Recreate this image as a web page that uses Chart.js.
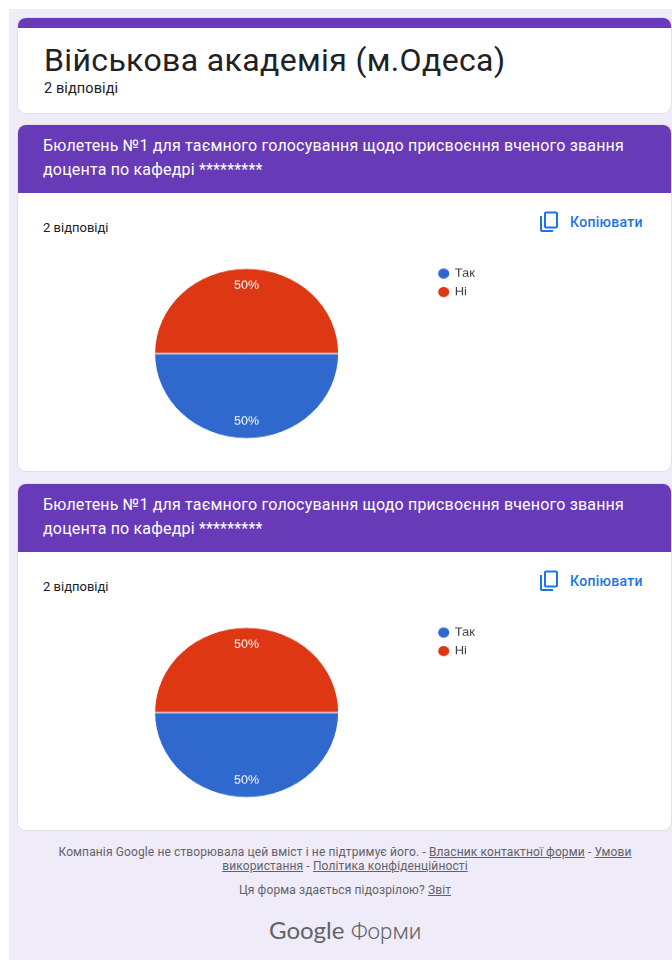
<!DOCTYPE html>
<html>
<head>
<meta charset="utf-8">
<script src="https://cdn.jsdelivr.net/npm/chart.js@4"></script>
<style>
  html, body { margin: 0; padding: 0; background: #fff; }
  body { width: 672px; height: 960px; overflow: hidden; position: relative; font-family: Roboto, sans-serif; color: #202124; }
  .page { position: absolute; left: 9px; top: 9px; width: 663px; height: 951px; background: #f0ebf8; }
  .card { position: absolute; left: 18px; width: 653px; background: #fff; border-radius: 8px; box-shadow: 0 0 0 1px #e3dfe9; overflow: hidden; }
  .stripe { height: 10px; background: #673ab7; }
  .header { background: #673ab7; color: #fff; height: 68px; box-sizing: border-box; padding: 9px 0 0 25px; font-size: 16px; line-height: 24px; letter-spacing: 0.18px; }
  .text { position: absolute; white-space: nowrap; }
  .copy { position: absolute; left: 520.5px; top: 86px; width: 20px; height: 22px; }
  .copy-label { position: absolute; left: 552px; top: 89px; color: #1a73e8; font-size: 14px; font-weight: 500; letter-spacing: 0.3px; white-space: nowrap; }
  canvas { position: absolute; transform-origin: 0 0; transform: scaleY(0.924); }
  .footer { position: absolute; left: 45px; width: 600px; text-align: center; font-size: 12px; line-height: 13.5px; color: #5f6368; letter-spacing: 0.12px; }
  .footer u { color: #5f6368; }
  .logo { position: absolute; left: 269px; top: 915px; white-space: nowrap; color: #5f6368; font-size: 24px; line-height: 30px; font-family: Lato, sans-serif; }
  .logo span { position: absolute; left: 82px; top: 1px; font-size: 22.3px; font-family: Roboto, sans-serif; font-weight: 300; }
</style>
</head>
<body>
<div class="page"></div>

<div class="card" style="top:18px;height:95px">
  <div class="stripe"></div>
  <div class="text" style="left:26px;top:23px;font-size:32px;line-height:38px;letter-spacing:0.36px">Військова академія (м.Одеса)</div>
  <div class="text" style="left:26px;top:62px;font-size:14.5px;line-height:18px;letter-spacing:0.1px">2 відповіді</div>
</div>

<div class="card" style="top:125px;height:346px">
  <div class="header">Бюлетень №1 для таємного голосування щодо присвоєння вченого звання<br>доцента по кафедрі *********</div>
  <div class="text" style="left:25px;top:95px;font-size:13px;line-height:16px">2 відповіді</div>
  <svg class="copy" viewBox="0 0 20 22" fill="none" stroke="#1a73e8" stroke-width="2"><path d="M2 5v14a1 1 0 0 0 1 1h11"/><rect x="6" y="1.5" width="12" height="15" rx="1"/></svg>
  <div class="copy-label">Копіювати</div>
</div>

<div class="card" style="top:484px;height:346px">
  <div class="header">Бюлетень №1 для таємного голосування щодо присвоєння вченого звання<br>доцента по кафедрі *********</div>
  <div class="text" style="left:25px;top:95px;font-size:13px;line-height:16px">2 відповіді</div>
  <svg class="copy" viewBox="0 0 20 22" fill="none" stroke="#1a73e8" stroke-width="2"><path d="M2 5v14a1 1 0 0 0 1 1h11"/><rect x="6" y="1.5" width="12" height="15" rx="1"/></svg>
  <div class="copy-label">Копіювати</div>
</div>

<canvas id="pie1" style="left:60.5px;top:262px"></canvas>
<canvas id="pie2" style="left:60.5px;top:621px"></canvas>

<div class="footer" style="top:846px">Компанія Google не створювала цей вміст і не підтримує його. - <u>Власник контактної форми</u> - <u>Умови використання</u> - <u>Політика конфіденційності</u></div>
<div class="footer" style="top:884px">Ця форма здається підозрілою? <u>Звіт</u></div>
<div class="logo">Google<span>Форми</span></div>

<script>
const categories = ["Так", "Ні"];
const valuesFirst = [1, 1];
const valuesSecond = [1, 1];
const sliceColors = ["#2f69ce", "#dd3813"];

// writes the percentage inside each slice
const percentLabels = {
  id: "percentLabels",
  afterLayout(chart) {
    // legend starts almost level with the top of the pie
    chart.legend.top -= 7.5;
  },
  afterDatasetsDraw(chart) {
    const ctx = chart.ctx;
    const values = chart.data.datasets[0].data;
    const total = values.reduce((a, b) => a + b, 0);
    ctx.save();
    ctx.fillStyle = "#fff";
    ctx.font = "12.5px 'Liberation Sans'";
    ctx.textAlign = "center";
    ctx.textBaseline = "middle";
    chart.getDatasetMeta(0).data.forEach((arc, i) => {
      const mid = (arc.startAngle + arc.endAngle) / 2;
      const dist = arc.outerRadius * 0.795;
      const label = Math.round((values[i] / total) * 100) + "%";
      ctx.fillText(label, arc.x + Math.cos(mid) * dist, arc.y + Math.sin(mid) * dist);
    });
    ctx.restore();
  },
};

function setPie(id, values) {
  const canvas = document.getElementById(id);
  canvas.width = 424;
  canvas.height = 192;

  new Chart(canvas, {
    type: "pie",
    data: {
      labels: categories,
      datasets: [
        {
          data: values,
          backgroundColor: sliceColors,
          borderColor: "#fff",
          borderWidth: 1,
        },
      ],
    },
    options: {
      responsive: false,
      animation: false,
      rotation: 90,
      layout: { padding: { top: 6.5, bottom: 0.5 } },
      plugins: {
        tooltip: { enabled: false },
        legend: {
          position: "right",
          align: "start",
          labels: {
            usePointStyle: true,
            boxWidth: 9,
            boxHeight: 8.5,
            padding: 7,
            color: "#3c4043",
            font: { family: "Liberation Sans", size: 13 },
          },
        },
      },
    },
    plugins: [percentLabels],
  });
}

setPie("pie1", valuesFirst);
setPie("pie2", valuesSecond);
</script>
</body>
</html>
